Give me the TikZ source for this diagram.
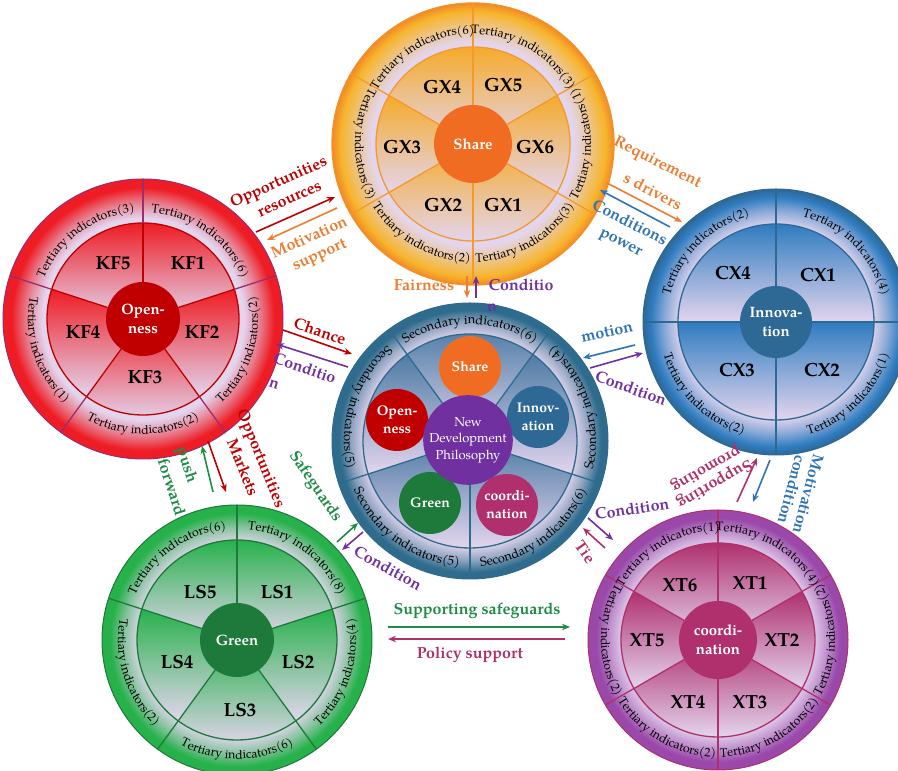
\documentclass[tikz,border=0pt]{standalone}
\usepackage{fontspec}
\setmainfont{TeX Gyre Pagella}
\usetikzlibrary{arrows.meta,decorations.text}

% palette
\definecolor{lav}{HTML}{E3D5EE}
\definecolor{shO}{HTML}{EF6C22}
\definecolor{shY}{HTML}{F7B52C}
\definecolor{shL}{HTML}{F39A2B}
\definecolor{opR}{HTML}{EE1C24}
\definecolor{opD}{HTML}{C00000}
\definecolor{opL}{HTML}{9B2C6E}
\definecolor{inB}{HTML}{2F7CC0}
\definecolor{inD}{HTML}{2E6894}
\definecolor{grG}{HTML}{27B14B}
\definecolor{grD}{HTML}{1D7A3A}
\definecolor{coM}{HTML}{B0306E}
\definecolor{coP}{HTML}{9A48AA}
\definecolor{ceT}{HTML}{2E6B8C}
\definecolor{ceS}{HTML}{4F7CA6}
\definecolor{ceH}{HTML}{7030A0}
\definecolor{txR}{HTML}{C00000}
\definecolor{txO}{HTML}{ED7D31}
\definecolor{txB}{HTML}{2E75B6}
\definecolor{txP}{HTML}{7030A0}
\definecolor{txG}{HTML}{1E8C45}
\definecolor{txM}{HTML}{B0306A}

% rim shadings (25bp = rim radius): lavender band fading into the wheel colour
\pgfdeclareradialshading{rimShare}{\pgfpoint{0bp}{0bp}}{color(0bp)=(lav); color(18bp)=(lav); color(21bp)=(shY!55!lav); color(23.5bp)=(shY); color(25bp)=(shO!60!shY); color(50bp)=(shO!60!shY)}
\pgfdeclareradialshading{rimOpen}{\pgfpoint{0bp}{0bp}}{color(0bp)=(lav); color(18bp)=(lav); color(21bp)=(opR!50!lav); color(23.5bp)=(opR); color(25bp)=(opR); color(50bp)=(opR)}
\pgfdeclareradialshading{rimInno}{\pgfpoint{0bp}{0bp}}{color(0bp)=(lav); color(18bp)=(lav); color(21bp)=(inB!50!lav); color(23.5bp)=(inB); color(25bp)=(inD); color(50bp)=(inD)}
\pgfdeclareradialshading{rimCent}{\pgfpoint{0bp}{0bp}}{color(0bp)=(lav); color(19bp)=(lav); color(21.5bp)=(ceT!45!lav); color(23.8bp)=(ceT); color(25bp)=(ceT); color(50bp)=(ceT)}
\pgfdeclareradialshading{rimGreen}{\pgfpoint{0bp}{0bp}}{color(0bp)=(lav); color(18bp)=(lav); color(21bp)=(grG!50!lav); color(23.5bp)=(grG); color(25bp)=(grG); color(50bp)=(grG)}
\pgfdeclareradialshading{rimCoord}{\pgfpoint{0bp}{0bp}}{color(0bp)=(lav); color(18bp)=(lav); color(21bp)=(coP!50!lav); color(23.5bp)=(coP); color(25bp)=(coP); color(50bp)=(coP)}

\newcommand\tfont{\fontsize{12.3}{14}\selectfont}
\newcommand\sfont{\fontsize{12.8}{14}\selectfont}

% sectors of the inner disc, each with its own top-to-bottom gradient
\newcommand\fan[4]{\foreach \a/\b in {#4}{\shade[shift={(#1)},top color=#3,bottom color=lav] (0,0) -- (\a:#2) arc[start angle=\a,end angle=\b,radius=#2] -- cycle;}}
% spokes: hub to inner circle, inner circle to rim
\newcommand\spokes[7]{\foreach \a in {#2}{\draw[#6,line width=1.3pt,shift={(#1)}] (\a:#3) -- (\a:#4); \draw[#7,line width=1.3pt,shift={(#1)}] (\a:#4) -- (\a:#5);}}
% ring labels; clockwise ones have their tops outward, counter-clockwise ones inward
\newcommand\cwtext[5][\tfont]{\path[shift={(#2)},decorate,decoration={text along path,text align=center,text={|#1|#5}}] (#4+50:#3) arc[start angle=#4+50,end angle=#4-50,radius=#3];}
\newcommand\ccwtext[5][\tfont]{\path[shift={(#2)},decorate,decoration={text along path,text align=center,text={|#1|#5}}] (#4-50:#3) arc[start angle=#4-50,end angle=#4+50,radius=#3];}
% arrow between two named coordinates
\newcommand\link[4]{\coordinate (#2s) at (#3); \coordinate (#2e) at (#4); \draw[flow,#1] (#2s) -- (#2e);}

\begin{document}
\begin{tikzpicture}[x=1pt,y=1pt,
  flow/.style={line width=1.6pt,-{Stealth[length=8pt,width=6.5pt]}},
  lbl/.style={font=\bfseries\fontsize{16}{17}\selectfont,inner sep=1pt,align=center},
  seclbl/.style={font=\bfseries\fontsize{19}{20}\selectfont,text=black,inner sep=0pt},
  hub/.style={circle,inner sep=0pt,text=white,align=center,font=\bfseries\fontsize{15}{19}\selectfont},
  mini/.style={circle,inner sep=0pt,minimum size=62pt,text=white,align=center,font=\bfseries\fontsize{14}{18}\selectfont}]
\useasboundingbox (0,0) rectangle (898,771);
\fill[white] (0,0) rectangle (898,771);

\coordinate (sh) at (473,627);
\coordinate (op) at (143,452);
\coordinate (in) at (776,449);
\coordinate (ce) at (470,330);
\coordinate (gr) at (237,131);
\coordinate (co) at (718,131);

% ---------- Share wheel ----------
\shade[shading=rimShare] (sh) circle (141pt);
\fan{sh}{97pt}{shY!85!shO}{30/90,90/150,150/210,210/270,270/330,-30/30}
\draw[shL,line width=1.3pt] (sh) circle (97pt);
\draw[shL!80!shO,line width=1.3pt] (sh) circle (141pt);
\spokes{sh}{30,90,150,210,270,330}{39pt}{97pt}{141pt}{shL}{shL}
\node[hub,fill=shO,minimum size=78pt] (shHub) at (sh) {Share};
\node[seclbl] (gx4) at (442,684) {GX4};
\node[seclbl] (gx5) at (503,686) {GX5};
\node[seclbl] (gx3) at (402,624) {GX3};
\node[seclbl] (gx6) at (535,624) {GX6};
\node[seclbl] (gx2) at (443,566) {GX2};
\node[seclbl] (gx1) at (503,566) {GX1};
\cwtext{sh}{110pt}{120}{Tertiary indicators(6)}
\cwtext{sh}{110pt}{60}{Tertiary indicators(3)}
\ccwtext{sh}{118pt}{0}{Tertiary indicators(1)}
\ccwtext{sh}{118pt}{300}{Tertiary indicators(3)}
\ccwtext{sh}{118pt}{240}{Tertiary indicators(2)}
\ccwtext{sh}{118pt}{180}{Tertiary indicators(3)}

% ---------- Openness wheel ----------
\shade[shading=rimOpen] (op) circle (140pt);
\fan{op}{96pt}{opR}{18/90,90/162,162/234,234/306,306/378}
\draw[opD,line width=1.3pt] (op) circle (96pt);
\draw[opL,line width=1pt] (op) circle (140pt);
\spokes{op}{18,90,162,234,306}{37pt}{96pt}{140pt}{opD}{opL}
\node[hub,fill=opD,minimum size=74pt] (opHub) at (op) {Open-\\ness};
\node[seclbl] (kf5) at (113,508) {KF5};
\node[seclbl] (kf1) at (188,508) {KF1};
\node[seclbl] (kf4) at (83,439) {KF4};
\node[seclbl] (kf2) at (202,439) {KF2};
\node[seclbl] (kf3) at (145,394) {KF3};
\cwtext{op}{107pt}{126}{Tertiary indicators(3)}
\cwtext{op}{107pt}{54}{Tertiary indicators(6)}
\ccwtext{op}{115pt}{-18}{Tertiary indicators(2)}
\ccwtext{op}{115pt}{-90}{Tertiary indicators(2)}
\ccwtext{op}{115pt}{198}{Tertiary indicators(1)}

% ---------- Innovation wheel ----------
\shade[shading=rimInno] (in) circle (133pt);
\fan{in}{98pt}{inB}{0/90,90/180,180/270,270/360}
\draw[inD,line width=1.3pt] (in) circle (98pt);
\draw[inD,line width=1pt] (in) circle (133pt);
\spokes{in}{0,90,180,270}{36pt}{98pt}{133pt}{inD}{inD}
\node[hub,fill=inD,minimum size=72pt] (inHub) at (in) {Innova-\\tion};
\node[seclbl] (cx4) at (733,498) {CX4};
\node[seclbl] (cx1) at (818,496) {CX1};
\node[seclbl] (cx3) at (737,401) {CX3};
\node[seclbl] (cx2) at (822,401) {CX2};
\cwtext{in}{109pt}{135}{Tertiary indicators(2)}
\cwtext{in}{109pt}{45}{Tertiary indicators(4)}
\ccwtext{in}{117pt}{-45}{Tertiary indicators(1)}
\ccwtext{in}{117pt}{225}{Tertiary indicators(2)}

% ---------- Central wheel ----------
\shade[shading=rimCent] (ce) circle (138pt);
\fan{ce}{107pt}{ceS}{54/126,126/198,198/270,270/342,342/414}
\draw[ceT,line width=1.3pt] (ce) circle (107pt);
\draw[ceT,line width=1pt] (ce) circle (138pt);
\spokes{ce}{54,126,198,270,342}{43pt}{107pt}{138pt}{ceT}{ceT}
\node[mini,fill=shO] (cShare) at (470,404) {Share};
\node[mini,fill=opD] (cOpen) at (397,351) {Open-\\ness};
\node[mini,fill=inD] (cInno) at (538,354) {Innov-\\ation};
\node[mini,fill=grD] (cGreen) at (430,268) {Green};
\node[mini,fill=coM] (cCoord) at (507,266) {coordi-\\nation};
\node[circle,fill=ceH,minimum size=86pt,inner sep=0pt,text=white,align=center,font=\fontsize{13}{16.5}\selectfont] (ndp) at (468,331) {New\\Development\\Philosophy};
\cwtext[\sfont]{ce}{117pt}{90}{Secondary indicators(6)}
\ccwtext[\sfont]{ce}{126pt}{18}{Secondary indicators(4)}
\ccwtext[\sfont]{ce}{126pt}{-54}{Secondary indicators(6)}
\ccwtext[\sfont]{ce}{126pt}{234}{Secondary indicators(5)}
\ccwtext[\sfont]{ce}{126pt}{162}{Secondary indicators(5)}

% ---------- Green wheel ----------
\shade[shading=rimGreen] (gr) circle (135pt);
\fan{gr}{100pt}{grG}{18/90,90/162,162/234,234/306,306/378}
\draw[grD,line width=1.3pt] (gr) circle (100pt);
\draw[grD,line width=1pt] (gr) circle (135pt);
\spokes{gr}{18,90,162,234,306}{37pt}{100pt}{135pt}{grD}{grD}
\node[hub,fill=grD,minimum size=74pt] (grHub) at (gr) {Green};
\node[seclbl] (ls5) at (200,179) {LS5};
\node[seclbl] (ls1) at (277,179) {LS1};
\node[seclbl] (ls4) at (177,109) {LS4};
\node[seclbl] (ls2) at (298,109) {LS2};
\node[seclbl] (ls3) at (240,61) {LS3};
\cwtext{gr}{111pt}{126}{Tertiary indicators(6)}
\cwtext{gr}{111pt}{54}{Tertiary indicators(8)}
\ccwtext{gr}{119pt}{-18}{Tertiary indicators(4)}
\ccwtext{gr}{119pt}{-90}{Tertiary indicators(6)}
\ccwtext{gr}{119pt}{198}{Tertiary indicators(2)}

% ---------- Coordination wheel ----------
\shade[shading=rimCoord] (co) circle (130pt);
\fan{co}{97pt}{coM}{30/90,90/150,150/210,210/270,270/330,-30/30}
\draw[coM,line width=1.3pt] (co) circle (97pt);
\draw[coM,line width=1pt] (co) circle (130pt);
\spokes{co}{30,90,150,210,270,330}{39pt}{97pt}{130pt}{coM}{coM}
\node[hub,fill=coM,minimum size=78pt] (coHub) at (co) {coordi-\\nation};
\node[seclbl] (xt6) at (680,186) {XT6};
\node[seclbl] (xt1) at (750,188) {XT1};
\node[seclbl] (xt5) at (647,131) {XT5};
\node[seclbl] (xt2) at (782,131) {XT2};
\node[seclbl] (xt4) at (688,69) {XT4};
\node[seclbl] (xt3) at (750,69) {XT3};
\cwtext{co}{109pt}{120}{Tertiary indicators(1)}
\cwtext{co}{109pt}{60}{Tertiary indicators(4)}
\ccwtext{co}{117pt}{0}{Tertiary indicators(2)}
\ccwtext{co}{117pt}{-60}{Tertiary indicators(2)}
\ccwtext{co}{117pt}{240}{Tertiary indicators(2)}
\ccwtext{co}{117pt}{180}{Tertiary indicators(2)}

% ---------- links between the wheels ----------
% Openness - Share
\link{txR}{ops1}{256,539}{335,574}
\link{txO}{ops2}{337,563}{267,531}
\node[lbl,text=txR,rotate=24] (tOpp) at (279,588) {Opportunities};
\node[lbl,text=txR,rotate=24] (tRes) at (290,571) {resources};
\node[lbl,text=txO,rotate=24] (tMot) at (309,534) {Motivation};
\node[lbl,text=txO,rotate=24] (tSup) at (320,515) {support};
% Share - Innovation
\link{txO}{shi1}{607,588}{682,549}
\link{txB}{shi2}{670,544}{600,581}
\node[lbl,text=txO,rotate=-27] (tReq) at (657,608) {Requirement};
\node[lbl,text=txO,rotate=-27] (tDrv) at (653,580) {s drivers};
\node[lbl,text=txB,rotate=-27] (tCon) at (630,549) {Conditions};
\node[lbl,text=txB,rotate=-27] (tPow) at (620,527) {power};
% Share - centre
\link{txO}{shc1}{467,495}{467,473}
\link{txP}{shc2}{476,473}{476,495}
\node[lbl,text=txO] (tFair) at (424,486) {Fairness};
\node[lbl,text=txP] (tCd1) at (521,486) {Conditio};
\node[lbl,text=txP] (tCd1n) at (492,463) {n};
% Openness - centre
\link{txR}{opc1}{283,441}{352,417}
\link{txP}{opc2}{348,404}{276,427}
\node[lbl,text=txR,rotate=-19] (tCha) at (320,440) {Chance};
\node[lbl,text=txP,rotate=-19] (tCd2) at (305,403) {Conditio};
\node[lbl,text=txP,rotate=-19] (tCd2n) at (274,386) {n};
% Innovation - centre
\link{txB}{inc1}{635,426}{583,413}
\link{txP}{inc2}{590,403}{643,418}
\node[lbl,text=txB,rotate=12] (tMotion) at (607,439) {motion};
\node[lbl,text=txP,rotate=-20] (tCd3) at (631,383) {Condition};
% centre - coordination
\link{txP}{cco1}{588,253}{613,231}
\link{txM}{cco2}{605,223}{583,243}
\node[lbl,text=txP,rotate=8] (tCd4) at (632,262) {Condition};
\node[lbl,text=txM,rotate=-55] (tTie) at (585,219) {Tie};
% Innovation - coordination
\link{txM}{ico1}{737,269}{757,313}
\link{txB}{ico2}{770,311}{753,269}
\node[lbl,text=txM,rotate=210] (tSupp) at (710,295) {Supporting\\promoting};
\node[lbl,text=txB,rotate=-105] (tMotc) at (800,279) {Motivation\\condition};
% Openness - Green
\link{txG}{opg1}{213,279}{202,325}
\link{txR}{opg2}{208,330}{226,279}
\node[lbl,text=txR,rotate=-68] (tOpp2) at (260,312) {Opportunities};
\node[lbl,text=txR,rotate=-68] (tMkt) at (243,304) {Markets};
\node[lbl,text=txG,rotate=-72] (tPush) at (186,306) {push};
\node[lbl,text=txG,rotate=-72] (tFwd) at (172,284) {forward};
% Green - centre
\link{txG}{grc1}{337,229}{358,248}
\link{txP}{grc2}{363,239}{342,221}
\node[lbl,text=txG,rotate=-56] (tSafe) at (315,284) {Safeguards};
\node[lbl,text=txP,rotate=-29] (tCd5) at (388,203) {Condition};
% Green - coordination
\link{txG}{grco1}{388,144}{570,144}
\link{txM}{grco2}{565,132}{388,132}
\node[lbl,text=txG] (tSS) at (477,160) {Supporting safeguards};
\node[lbl,text=txM] (tPol) at (470,116) {Policy support};
\end{tikzpicture}
\end{document}
